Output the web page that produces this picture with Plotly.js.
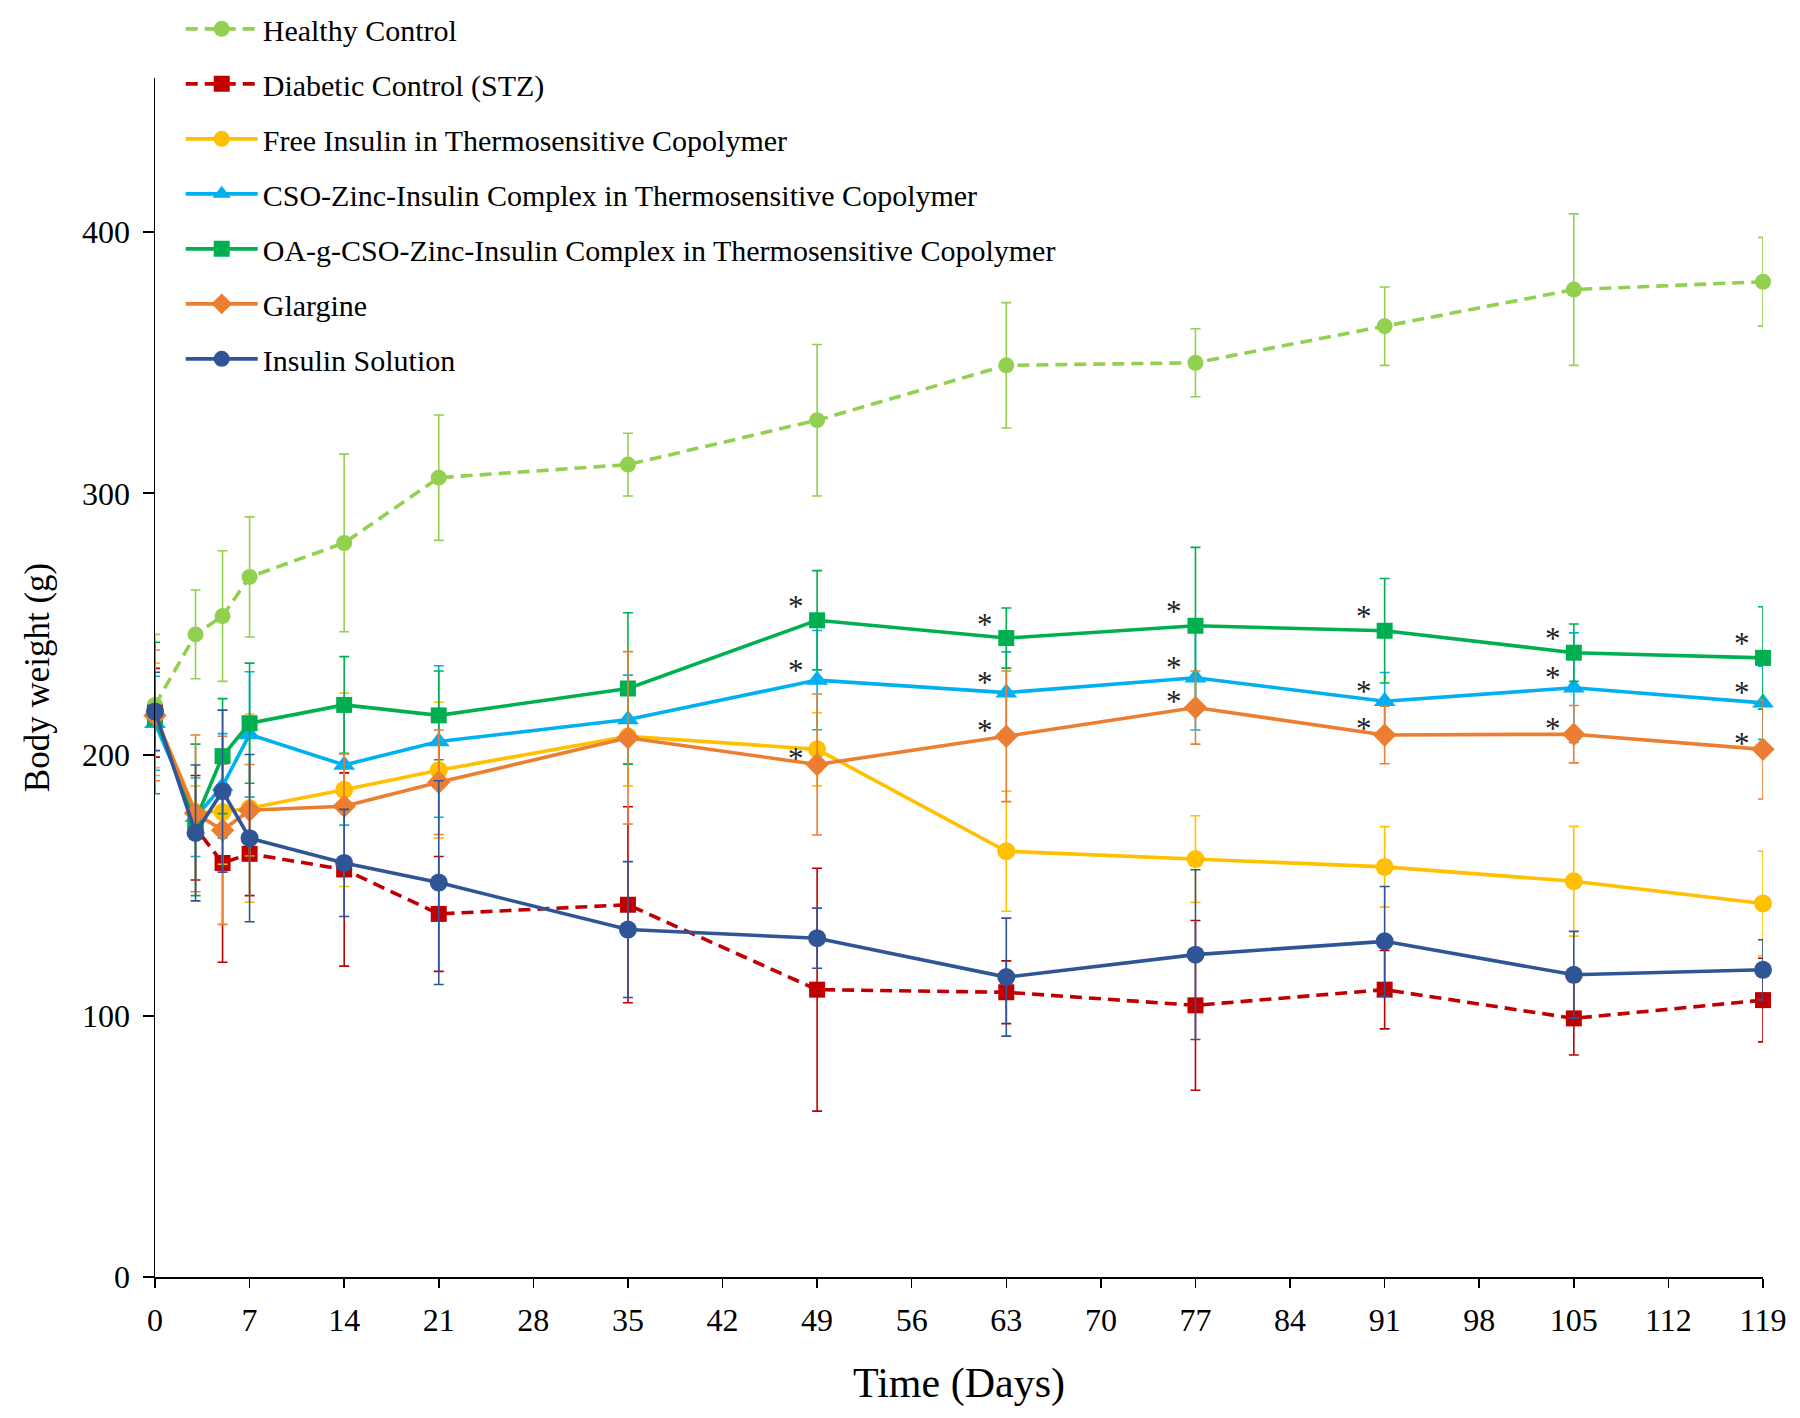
<!DOCTYPE html>
<html>
<head>
<meta charset="utf-8">
<script src="https://cdn.plot.ly/plotly-3.0.1.min.js"></script>
<style>html,body{margin:0;padding:0;background:#fff;}#chart{width:1800px;height:1418px;}</style>
</head>
<body>
<div id="chart"></div>
<script>
// Days of measurement
const days = [0, 3, 5, 7, 14, 21, 35, 49, 63, 77, 91, 105, 119];

// Body weight (g), mean values
const healthy      = [219, 246, 253, 268, 281, 306, 311, 328, 349, 350, 364, 378, 381];
const healthyErr   = [27, 17, 25, 23, 34, 24, 12, 29, 24, 13, 15, 29, 17];

const diabetic     = [216, 172, 158.5, 162, 156, 139, 142.5, 110, 109, 104, 110, 99, 106];
const diabeticErr  = [17, 20, 38, 16, 37, 22, 37.5, 46.5, 12, 32.5, 15, 14, 16];

const freeIns      = [215, 178, 178, 179.5, 186.5, 194, 207, 202, 163, 160, 157, 151.5, 143];
const freeInsErr   = [20, 10, 20, 36, 37, 26, 19, 14, 23, 16.6, 15.4, 21, 20];

const cso          = [212, 176, 188, 207.7, 196, 205, 213.4, 228.5, 223.7, 229.4, 220.4, 225.6, 219.8];
const csoErr       = [18, 15, 20, 24, 23, 29, 17, 19, 15.6, 20, 11, 21, 14];

const oa           = [214, 175, 199.4, 212, 219, 215, 225.3, 251.4, 244.6, 249.3, 247.4, 239, 237];
const oaErr        = [29, 29, 22, 23, 18.5, 17, 29, 19, 11.5, 30, 20, 11, 19.6];

const glargine     = [215, 177.5, 171, 178.7, 180.2, 189.4, 206.4, 196.2, 207, 218, 207.5, 207.8, 202];
const glargineErr  = [25, 30, 36, 17.5, 20, 20, 33, 27, 25, 14, 11, 11, 19];

const insSol       = [216.5, 170, 186, 168, 158.5, 151, 133, 129.7, 114.8, 123.4, 128.5, 115.7, 117.6];
const insSolErr    = [15, 26, 31, 32, 20.5, 39, 26, 11.5, 22.6, 32.5, 21, 16.6, 11.5];

// Significance markers (*) days
const starDays = [49, 63, 77, 91, 105, 119];

// Axis ticks
const xTicks = [0, 7, 14, 21, 28, 35, 42, 49, 56, 63, 70, 77, 84, 91, 98, 105, 112, 119];
const yTicks = [0, 100, 200, 300, 400];

const FONT = 'Liberation Serif, Times New Roman, serif';

function series(name, y, err, color, symbol, size, dash) {
  return {
    type: 'scatter', mode: 'lines+markers', name: name,
    x: days, y: y,
    legendgroup: name,
    line: {color: color, width: 3.6, dash: dash || 'solid'},
    marker: {color: color, symbol: symbol, size: size},
    error_y: {type: 'data', array: err, visible: true, color: color, thickness: 1.6, width: 5},
    cliponaxis: false
  };
}

const traces = [
  series('Healthy Control', healthy, healthyErr, '#92D050', 'circle', 16, '12px,7px'),
  series('Diabetic Control (STZ)', diabetic, diabeticErr, '#C00000', 'square', 16, '12px,7px'),
  series('Free Insulin in Thermosensitive Copolymer', freeIns, freeInsErr, '#FFC000', 'circle', 18),
  series('CSO-Zinc-Insulin Complex in Thermosensitive Copolymer', cso, csoErr, '#00B0F0', 'triangle-up', 19),
  series('OA-g-CSO-Zinc-Insulin Complex in Thermosensitive Copolymer', oa, oaErr, '#00B050', 'square', 16),
  series('Glargine', glargine, glargineErr, '#ED7D31', 'diamond', 18),
  series('Insulin Solution', insSol, insSolErr, '#2F5597', 'circle', 18)
];

// Asterisk annotations next to the three best-performing groups
const starGroups = [oa, cso, glargine];
const starLift = [14, 10, 6];
const annotations = [];
starGroups.forEach(function (arr, g) {
  starDays.forEach(function (d) {
    const i = days.indexOf(d);
    annotations.push({
      x: d, y: arr[i], xref: 'x', yref: 'y',
      text: '*', showarrow: false,
      xshift: -21, yshift: starLift[g],
      font: {family: FONT, size: 31, color: '#222'}
    });
  });
});

const layout = {
  width: 1800, height: 1418,
  paper_bgcolor: '#ffffff', plot_bgcolor: '#ffffff',
  margin: {l: 155, r: 37, t: 78, b: 141, pad: 0, autoexpand: false},
  showlegend: true,
  legend: {
    x: 0.016, xanchor: 'left', y: 0.998, yref: 'container', yanchor: 'top',
    bgcolor: 'rgba(0,0,0,0)', borderwidth: 0,
    font: {family: FONT, size: 30, color: '#000'},
    itemwidth: 72, tracegroupgap: 13, traceorder: 'grouped'
  },
  font: {family: FONT, color: '#000'},
  xaxis: {
    range: [0, 119], tickvals: xTicks, ticktext: xTicks.map(String),
    showgrid: false, zeroline: false,
    showline: true, linecolor: '#000', linewidth: 2,
    ticks: 'outside', ticklen: 9, tickwidth: 1.5, tickcolor: '#000',
    tickfont: {family: FONT, size: 32, color: '#000'},
    ticklabelstandoff: 5,
    title: {text: 'Time (Days)', font: {family: FONT, size: 42, color: '#000'}, standoff: 30}
  },
  xaxis2: {
    overlaying: 'x', anchor: 'y', range: [0, 119], tickvals: xTicks,
    showgrid: false, zeroline: false, showline: false, showticklabels: false,
    ticks: 'inside', ticklen: 9, tickwidth: 1.5, tickcolor: '#000'
  },
  yaxis: {
    range: [0, 459], tickvals: yTicks, ticktext: yTicks.map(String),
    showgrid: false, zeroline: false,
    showline: true, linecolor: '#000', linewidth: 1.5,
    ticks: 'outside', ticklen: 11, tickwidth: 2, tickcolor: '#000',
    tickfont: {family: FONT, size: 32, color: '#000'},
    ticklabelstandoff: 6,
    title: {text: 'Body weight (g)', font: {family: FONT, size: 35, color: '#000'}, standoff: 22}
  },
  yaxis2: {
    overlaying: 'y', anchor: 'x', range: [0, 459], tickvals: yTicks,
    showgrid: false, zeroline: false, showline: false, showticklabels: false,
    ticks: 'inside', ticklen: 11, tickwidth: 2, tickcolor: '#000'
  },
  annotations: annotations
};

Plotly.newPlot('chart', traces, layout, {displayModeBar: false, staticPlot: true});
</script>
</body>
</html>
